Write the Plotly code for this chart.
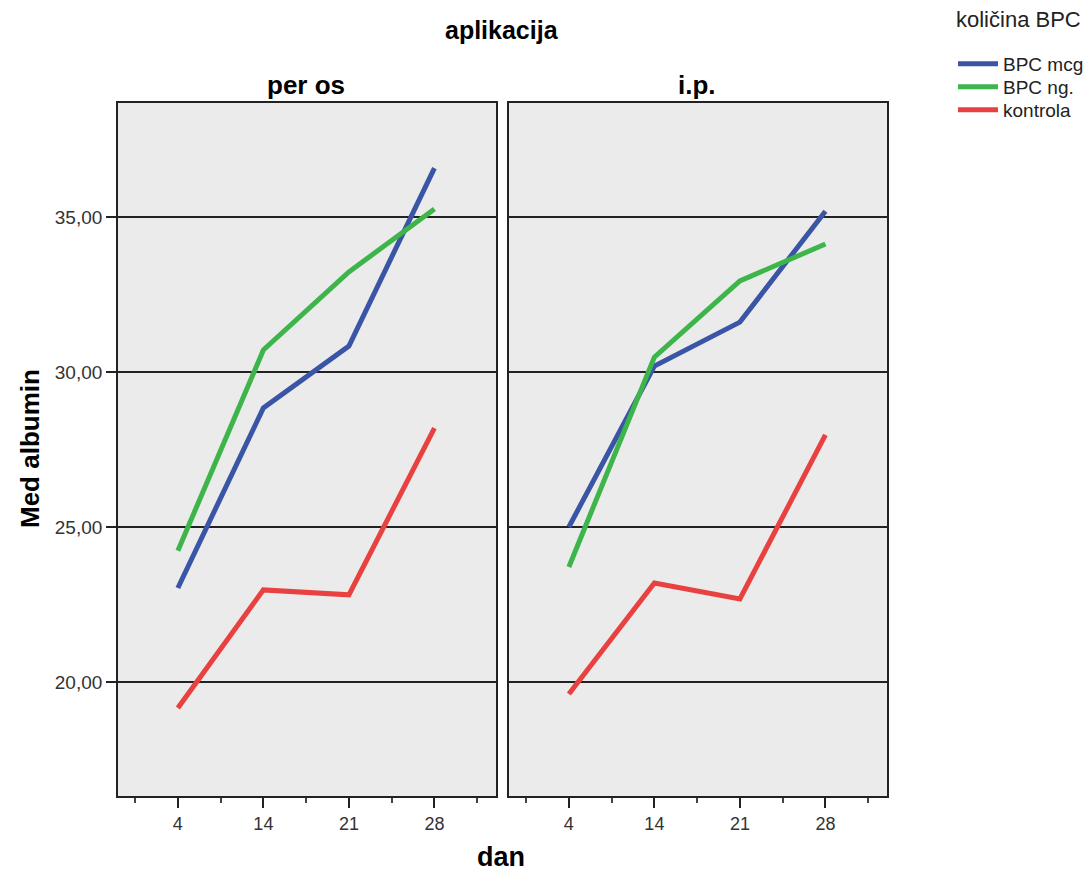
import plotly.graph_objects as go

days = ["4", "14", "21", "28"]
panels = ["per os", "i.p."]
series_names = ["BPC mcg", "BPC ng.", "kontrola"]
colors = ["#3a55a5", "#3db54b", "#e8413f"]
legend_title = "količina BPC"

per_os_mcg = [23.03, 28.84, 30.84, 36.58]
per_os_ng = [24.23, 30.71, 33.23, 35.26]
per_os_kontrola = [19.16, 22.97, 22.81, 28.19]

ip_mcg = [25.0, 30.19, 31.61, 35.19]
ip_ng = [23.71, 30.48, 32.94, 34.13]
ip_kontrola = [19.61, 23.19, 22.68, 27.97]

y_tickvals = [20, 25, 30, 35]
y_ticktext = ["20,00", "25,00", "30,00", "35,00"]

OFF = 8  # page body margin
W, H = 1091 - OFF, 873 - OFF
FONT = "Liberation Sans, Arial, sans-serif"
legend_ids = ["legend", "legend2", "legend3"]

fig = go.Figure()
x_pos = list(range(len(days)))
panel_data = [
    [per_os_mcg, per_os_ng, per_os_kontrola],
    [ip_mcg, ip_ng, ip_kontrola],
]
for p, data in enumerate(panel_data):
    xa = "x" if p == 0 else "x2"
    ya = "y" if p == 0 else "y2"
    for s, vals in enumerate(data):
        fig.add_trace(go.Scatter(
            x=x_pos, y=vals, mode="lines",
            line=dict(color=colors[s], width=5),
            name=series_names[s], legendgroup=series_names[s],
            legend=legend_ids[s],
            showlegend=(p == 0), xaxis=xa, yaxis=ya,
        ))


def px_x(v):
    return (v - OFF) / W


def px_y(v):
    return 1 - (v - OFF) / H


xcommon = dict(
    range=[-0.7, 3.72], tickvals=x_pos, ticktext=days,
    ticks="outside", ticklen=10, tickwidth=1.5, tickcolor="#222",
    showgrid=False, zeroline=False, showline=True, linecolor="#222",
    linewidth=1.8, mirror=True,
    tickfont=dict(family=FONT, size=18, color="#333"),
    minor=dict(ticks="outside", ticklen=5, tick0=-0.5, dtick=1,
               tickcolor="#444", showgrid=False),
)
ycommon = dict(
    range=[16.32, 38.68], tickvals=y_tickvals, ticktext=y_ticktext,
    ticks="outside", ticklen=10, tickwidth=1.5, tickcolor="#222",
    showgrid=True, gridcolor="#222", gridwidth=1.5,
    zeroline=False, showline=True, linecolor="#222", linewidth=1.8,
    mirror=True, domain=[px_y(796), px_y(103)],
    tickfont=dict(family=FONT, size=19, color="#333"),
)

legend_item_y = [64, 87, 110]
legends = {}
for lid, ly in zip(legend_ids, legend_item_y):
    legends[lid] = dict(
        x=px_x(953), y=px_y(ly), xanchor="left", yanchor="middle",
        font=dict(family=FONT, size=19, color="#222"),
        bgcolor="rgba(0,0,0,0)", itemwidth=40,
    )

fig.update_layout(
    width=W, height=H,
    margin=dict(l=0, r=0, t=0, b=0),
    paper_bgcolor="white",
    plot_bgcolor="#ebebeb",
    xaxis=dict(xcommon, domain=[px_x(118), px_x(496)], anchor="y"),
    xaxis2=dict(xcommon, domain=[px_x(509), px_x(887)], anchor="y2"),
    yaxis=dict(ycommon, anchor="x"),
    yaxis2=dict(ycommon, anchor="x2", matches="y", showticklabels=False, ticks=""),
    showlegend=True,
    **legends,
)

annotations = [
    dict(text="<b>aplikacija</b>", x=px_x(502), y=px_y(30), size=25),
    dict(text="<b>per os</b>", x=px_x(306), y=px_y(85), size=26),
    dict(text="<b>i.p.</b>", x=px_x(697), y=px_y(85), size=26),
    dict(text="<b>dan</b>", x=px_x(501), y=px_y(857), size=27),
]
for a in annotations:
    fig.add_annotation(text=a["text"], x=a["x"], y=a["y"], xref="paper", yref="paper",
                       showarrow=False, xanchor="center", yanchor="middle",
                       font=dict(family=FONT, size=a["size"], color="black"))
fig.add_annotation(text="<b>Med albumin</b>", x=px_x(30), y=px_y(449), xref="paper", yref="paper",
                   showarrow=False, textangle=-90, xanchor="center", yanchor="middle",
                   font=dict(family=FONT, size=26, color="black"))
fig.add_annotation(text=legend_title, x=px_x(954), y=px_y(19), xref="paper", yref="paper",
                   showarrow=False, xanchor="left", yanchor="middle",
                   font=dict(family=FONT, size=22, color="#222"))

fig.write_html("out.html")
